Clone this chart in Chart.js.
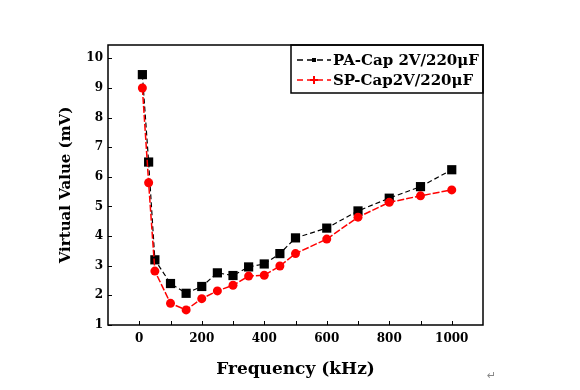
<!DOCTYPE html>
<html>
<head>
<meta charset="utf-8">
<script src="https://cdn.jsdelivr.net/npm/chart.js@4.4.1/dist/chart.umd.min.js"></script>
<style>
    body { margin: 0; background: #fff; }
    #wrap { width: 580px; height: 390px; }
</style>
</head>
<body>
<div id="wrap"><canvas id="vvChart" width="580" height="390"></canvas></div>
<script>
// Frequency points (kHz)
const FREQ = [10, 30, 50, 100, 150, 200, 250, 300, 350, 400, 450, 500, 600, 700, 800, 900, 1000];
// Virtual value (mV) for each capacitor
const PA_CAP = [9.45, 6.5, 3.2, 2.4, 2.07, 2.3, 2.76, 2.67, 2.96, 3.06, 3.41, 3.94, 4.27, 4.85, 5.28, 5.67, 6.24];
const SP_CAP = [9.0, 5.8, 2.82, 1.73, 1.51, 1.89, 2.15, 2.34, 2.65, 2.68, 2.99, 3.41, 3.9, 4.64, 5.14, 5.36, 5.56];

const X_TICKS = [0, 200, 400, 600, 800, 1000];
const X_MINOR = [0, 100, 200, 300, 400, 500, 600, 700, 800, 900, 1000];
const Y_TICKS = [1, 2, 3, 4, 5, 6, 7, 8, 9, 10];

const SERIF = '"DejaVu Serif", "Liberation Serif", serif';

// Box frame, inward ticks and the legend inside the plot
const framePlugin = {
    id: 'frame',
    afterDraw(chart) {
        const { ctx, chartArea: a, scales } = chart;
        ctx.save();
        ctx.strokeStyle = '#000';
        ctx.lineWidth = 1.5;
        ctx.strokeRect(a.left, a.top, a.right - a.left, a.bottom - a.top);

        ctx.lineWidth = 1;
        ctx.beginPath();
        X_MINOR.forEach(v => {
            const x = Math.round(scales.x.getPixelForValue(v)) + 0.5;
            ctx.moveTo(x, a.bottom);
            ctx.lineTo(x, a.bottom - 4);
        });
        Y_TICKS.forEach(v => {
            const y = Math.round(scales.y.getPixelForValue(v)) + 0.5;
            ctx.moveTo(a.left, y);
            ctx.lineTo(a.left + 4, y);
        });
        ctx.stroke();

        // legend
        const lx = 291, ly = a.top, lw = a.right - lx, lh = 48;
        ctx.lineWidth = 1.5;
        ctx.strokeRect(lx, ly, lw, lh);
        ctx.font = 'bold 15px ' + SERIF;
        ctx.textBaseline = 'middle';
        chart.data.datasets.forEach((ds, i) => {
            const y = ly + 15 + i * 20;
            ctx.strokeStyle = ds.borderColor;
            ctx.fillStyle = ds.borderColor;
            ctx.lineWidth = 1.5;
            ctx.setLineDash([6, 4]);
            ctx.beginPath();
            ctx.moveTo(297, y);
            ctx.lineTo(331, y);
            ctx.stroke();
            ctx.setLineDash([]);
            if (ds.pointStyle === 'rect') {
                ctx.fillRect(312, y - 2, 4, 4);
            } else {
                ctx.beginPath();
                ctx.moveTo(310, y); ctx.lineTo(318, y);
                ctx.moveTo(314, y - 4); ctx.lineTo(314, y + 4);
                ctx.lineWidth = 2;
                ctx.stroke();
            }
            ctx.fillStyle = '#000';
            ctx.fillText(ds.label, 333, y + 1);
        });

        ctx.fillStyle = '#888';
        ctx.font = '11px "DejaVu Sans", sans-serif';
        ctx.fillText('\u21B5', 487, 376);
        ctx.restore();
    }
};

new Chart(document.getElementById('vvChart'), {
    type: 'line',
    data: {
        datasets: [
            {
                label: 'PA-Cap 2V/220\u03BCF',
                data: FREQ.map((f, i) => ({ x: f, y: PA_CAP[i] })),
                borderColor: '#000',
                backgroundColor: '#000',
                borderWidth: 1.2,
                borderDash: [5, 3],
                pointStyle: 'rect',
                pointRadius: 6.5,
                pointBorderWidth: 0,
                order: 1
            },
            {
                label: 'SP-Cap2V/220\u03BCF',
                data: FREQ.map((f, i) => ({ x: f, y: SP_CAP[i] })),
                borderColor: '#ff0000',
                backgroundColor: '#ff0000',
                borderWidth: 1.5,
                borderDash: [7, 2],
                pointStyle: 'circle',
                pointRadius: 4.5,
                pointBorderWidth: 0,
                order: 0
            }
        ]
    },
    options: {
        responsive: false,
        animation: false,
        layout: { padding: { left: 0, top: 45, right: 97, bottom: 0 } },
        plugins: {
            legend: { display: false },
            tooltip: { enabled: false }
        },
        scales: {
            x: {
                type: 'linear',
                min: -100,
                max: 1100,
                afterBuildTicks: (s) => { s.ticks = X_TICKS.map(v => ({ value: v })); },
                afterFit: (s) => { s.height = 65; },
                grid: { display: false, drawTicks: false },
                border: { display: false },
                ticks: {
                    padding: 7,
                    color: '#000',
                    callback: (v) => String(v),
                    font: { family: SERIF, size: 12, weight: 'bold' }
                },
                title: {
                    display: true,
                    text: 'Frequency (kHz)',
                    color: '#000',
                    font: { family: SERIF, size: 17, weight: 'bold' },
                    padding: { top: 0, bottom: 10 }
                }
            },
            y: {
                type: 'linear',
                min: 1,
                max: 10.45,
                afterBuildTicks: (s) => { s.ticks = Y_TICKS.map(v => ({ value: v })); },
                afterFit: (s) => { s.width = 108; },
                grid: { display: false, drawTicks: false },
                border: { display: false },
                ticks: {
                    padding: 5,
                    color: '#000',
                    font: { family: SERIF, size: 12, weight: 'bold' }
                },
                title: {
                    display: true,
                    text: 'Virtual Value (mV)',
                    color: '#000',
                    font: { family: SERIF, size: 15, weight: 'bold' },
                    padding: { top: 57, bottom: 0 }
                }
            }
        }
    },
    plugins: [framePlugin]
});
</script>
</body>
</html>
